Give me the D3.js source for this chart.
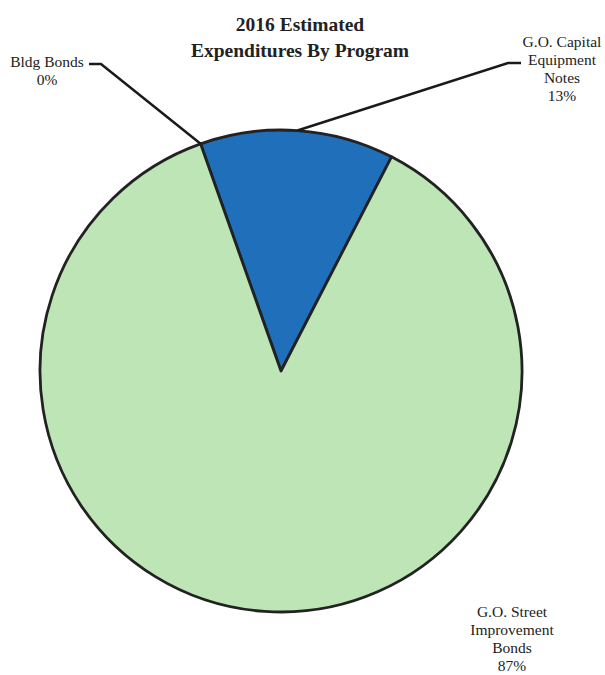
<!DOCTYPE html>
<html>
<head>
<meta charset="utf-8">
<script src="https://cdn.jsdelivr.net/npm/d3@7"></script>
<style>
  html, body { margin: 0; padding: 0; background: #fff; }
  svg { display: block; }
  text { font-family: "Liberation Serif", "Times New Roman", serif; fill: #222; }
</style>
</head>
<body>
<svg id="chart" width="605" height="675"></svg>
<script>
// Program expenditure shares (percent)
const programs = ["Bldg Bonds", "G.O. Capital Equipment Notes", "G.O. Street Improvement Bonds"];
const shares = [0, 13, 87];
const colors = ["#7aa9d6", "#1f6fba", "#bde5b6"];
const labelLines = [
  ["Bldg Bonds", "0%"],
  ["G.O. Capital", "Equipment", "Notes", "13%"],
  ["G.O. Street", "Improvement", "Bonds", "87%"]
];

const W = 605, H = 675;
const cx = 281, cy = 371, R = 241;
const startDeg = -19.5;

const svg = d3.select("#chart");

// Title
svg.append("text")
  .attr("x", 300).attr("y", 31)
  .attr("text-anchor", "middle")
  .style("font-weight", "bold").style("font-size", "19.5px")
  .text("2016 Estimated");
svg.append("text")
  .attr("x", 300).attr("y", 57)
  .attr("text-anchor", "middle")
  .style("font-weight", "bold").style("font-size", "19.5px")
  .text("Expenditures By Program");

const data = programs.map((p, i) => ({ name: p, value: shares[i], color: colors[i], lines: labelLines[i] }));

const pie = d3.pie()
  .value(d => d.value)
  .sort(null)
  .startAngle(startDeg * Math.PI / 180)
  .endAngle(startDeg * Math.PI / 180 + 2 * Math.PI);

const arcs = pie(data);
const arc = d3.arc().innerRadius(0).outerRadius(R);

const g = svg.append("g").attr("transform", `translate(${cx},${cy})`);

g.selectAll("path.slice")
  .data(arcs.filter(a => a.data.value > 0))
  .join("path")
  .attr("class", "slice")
  .attr("d", arc)
  .attr("fill", d => d.data.color)
  .attr("stroke", "#222")
  .attr("stroke-width", 2.8)
  .attr("stroke-linejoin", "round");

// Point on the rim at a slice's mid angle
function rimPoint(a) {
  const m = (a.startAngle + a.endAngle) / 2;
  return [cx + R * Math.sin(m), cy - R * Math.cos(m)];
}

// Label placement: text anchor, first baseline, and leader elbow (if any)
const layout = [
  { x: 47, y: 67, elbow: [[101, 64], [89, 64]] },
  { x: 562, y: 47, elbow: [[508, 63], [521, 63]] },
  { x: 512, y: 617, elbow: null }
];

arcs.forEach((a, i) => {
  const L = layout[i];
  if (L.elbow) {
    const p = rimPoint(a);
    svg.append("path")
      .attr("d", d3.line()([p, ...L.elbow]))
      .attr("fill", "none")
      .attr("stroke", "#1a1a1a")
      .attr("stroke-width", 2.5)
      .attr("stroke-linejoin", "miter");
  }
  const t = svg.append("text")
    .attr("text-anchor", "middle")
    .style("font-size", "15.5px");
  a.data.lines.forEach((ln, j) => {
    t.append("tspan")
      .attr("x", L.x)
      .attr("y", L.y + j * 18)
      .text(ln);
  });
});
</script>
</body>
</html>
